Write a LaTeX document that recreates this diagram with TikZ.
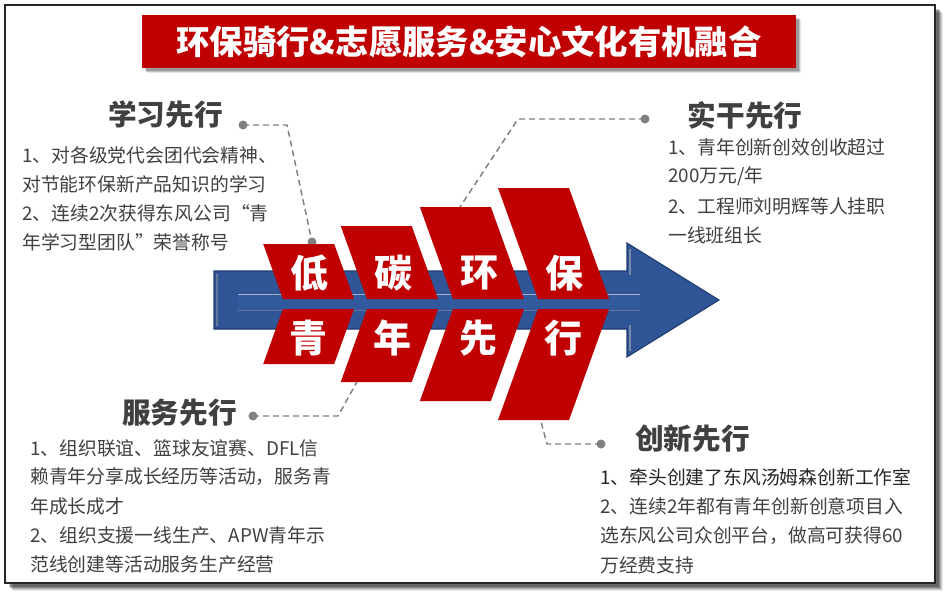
\documentclass[tikz,border=0pt]{standalone}
\usepackage{fontspec}
\setmainfont{Noto Sans CJK SC}
\usetikzlibrary{calc}
\definecolor{cred}{HTML}{C00000}
\definecolor{cblue}{HTML}{2F5597}
\definecolor{cbluedark}{HTML}{1F3C70}
\definecolor{cbluelight}{HTML}{32599E}
\definecolor{ctext}{HTML}{404040}
\definecolor{ctextdark}{HTML}{262626}
\definecolor{cline}{HTML}{808080}
\definecolor{cframe}{HTML}{262626}
\begin{document}
\begin{tikzpicture}[x=0.75pt,y=-0.75pt,
  bodytxt/.style={anchor=west,inner sep=0pt,text=ctext,font=\fontsize{14.1}{16}\selectfont},
  headtxt/.style={inner sep=0pt,text=ctext,font=\fontsize{21.5}{24}\selectfont\bfseries},
  chevbox/.style={fill=cred},
  chevtxt/.style={inner sep=0pt,text=white,font=\fontsize{28.5}{30}\selectfont\bfseries},
  conndot/.style={circle,fill=cline,inner sep=0pt,minimum size=6.75pt},
  conn/.style={draw=cline,line width=1.1pt,dash pattern=on 4.5pt off 3pt}]
\useasboundingbox (0,0) rectangle (947,597);
\fill[white] (0,0) rectangle (947,597);
% frame with shadow
\foreach \o/\op in {8/0.08,7/0.12,6/0.16,5/0.2,4/0.25}{
  \fill[black,opacity=\op] (5+\o,5+\o) rectangle (935+\o,583+\o);
}
\fill[white] (5,5) rectangle (935,583);
\draw[cframe,line width=2pt] (5,5) rectangle (935,583);
% title
\foreach \o/\op in {5/0.10,4/0.15,3/0.2}{
  \fill[black,opacity=\op] (142+\o,15+\o) rectangle (796+\o,68+\o);
}
\fill[cred] (142,15) rectangle (796,68);
\node[inner sep=0pt,text=white,font=\fontsize{25}{28}\selectfont\bfseries] (title) at (469,42) {环保骑行\&志愿服务\&安心文化有机融合};
% headings
\node[headtxt] (hxx) at (165.5,115) {学习先行};
\node[headtxt] (hsg) at (745,115) {实干先行};
\node[headtxt] (hfw) at (179.5,413) {服务先行};
\node[headtxt] (hcx) at (692.5,439) {创新先行};
% body texts
\node[bodytxt] (a1) at (22,155) {1、对各级党代会团代会精神、};
\node[bodytxt] (a2) at (22,184) {对节能环保新产品知识的学习};
\node[bodytxt] (a3) at (22,213) {2、连续2次获得东风公司“青};
\node[bodytxt] (a4) at (22,242) {年学习型团队”荣誉称号};
\node[bodytxt] (b1) at (668,147) {1、青年创新创效创收超过};
\node[bodytxt] (b2) at (668,176) {200万元/年};
\node[bodytxt] (b3) at (668,206) {2、工程师刘明辉等人挂职};
\node[bodytxt] (b4) at (668,235) {一线班组长};
\node[bodytxt] (c1) at (30,448) {1、组织联谊、篮球友谊赛、DFL信};
\node[bodytxt] (c2) at (30,477) {赖青年分享成长经历等活动，服务青};
\node[bodytxt] (c3) at (30,506) {年成长成才};
\node[bodytxt] (c4) at (30,535) {2、组织支援一线生产、APW青年示};
\node[bodytxt] (c5) at (30,564) {范线创建等活动服务生产经营};
\node[bodytxt,text=ctextdark] (d1) at (600,477) {1、牵头创建了东风汤姆森创新工作室};
\node[bodytxt] (d2) at (600,506) {2、连续2年都有青年创新创意项目入};
\node[bodytxt] (d3) at (600,536) {选东风公司众创平台，做高可获得60};
\node[bodytxt] (d4) at (600,565) {万经费支持};
% connector dots and bends
\node[conndot] (p1) at (243,125) {};
\coordinate (q1) at (287,125);
\node[conndot] (r1) at (312,242) {};
\node[conndot] (p2) at (645,119) {};
\coordinate (q2) at (518,119);
\coordinate (r2) at (458,210);
\node[conndot] (p3) at (253,416) {};
\coordinate (q3) at (338,416);
\coordinate (r3) at (358,380);
\node[conndot] (p4) at (601,444) {};
\coordinate (q4) at (547,444);
\coordinate (r4) at (540,418);
\draw[conn] (p1.center) -- (q1) -- (r1.center);
\draw[conn] (p2.center) -- (q2) -- (r2);
\draw[conn] (p3.center) -- (q3) -- (r3);
\draw[conn] (p4.center) -- (q4) -- (r4);
% blue arrow
\fill[cblue,draw=cbluedark,line width=0.8pt] (214,271) -- (627,271) -- (627,243) -- (719,300) -- (627,357) -- (627,329) -- (214,329) -- cycle;
\draw[cbluedark!70,line width=1pt] (217,274) -- (217,326);
\draw[cbluedark!60,line width=0.8pt] (630,249) -- (630,275);
\draw[cbluedark!60,line width=0.8pt] (630,351) -- (630,325);
\fill[cbluelight] (238,294) rectangle (640,310);
\draw[cbluedark!70,line width=0.7pt] (238,310) -- (640,310);
\draw[cbluedark!40,line width=0.5pt] (238,294) -- (640,294);
% chevrons
\foreach \xb/\h/\up/\dn [count=\i] in {283/55/低/青, 367/73/碳/年, 453/92/环/先, 538/111/保/行}{
  \fill[chevbox] (\xb,299) -- (\xb+71,299) -- (\xb+71-0.36*\h,299-\h) -- (\xb-0.36*\h,299-\h) -- cycle;
  \fill[chevbox] (\xb,309) -- (\xb+71,309) -- (\xb+71-0.36*\h,309+\h) -- (\xb-0.36*\h,309+\h) -- cycle;
  \node[chevtxt] (u\i) at (\xb-9.4+35.5,273) {\up};
  \node[chevtxt] (l\i) at (\xb-10.4+35.5,338) {\dn};
}
\end{tikzpicture}
\end{document}
